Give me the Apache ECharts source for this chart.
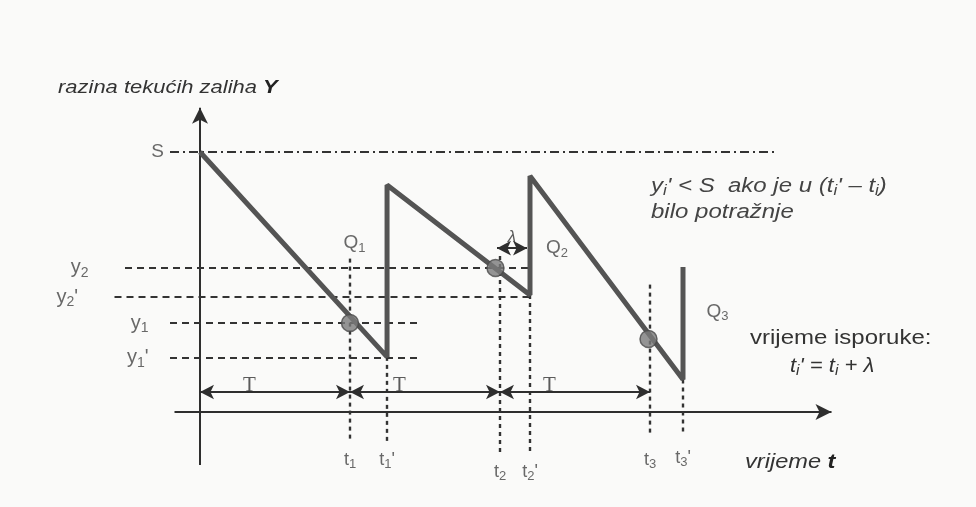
<!DOCTYPE html>
<html>
<head>
<meta charset="utf-8">
<script src="https://cdn.jsdelivr.net/npm/echarts@6/dist/echarts.min.js"></script>
<style>
html, body { margin: 0; padding: 0; background: #fafaf9; }
#chart { width: 976px; height: 507px; }
</style>
</head>
<body>
<div id="chart"></div>
<script>
// time in units of T, stock level with S = 10
const tickNames = ["t1", "t1'", "t2", "t2'", "t3", "t3'"];
const tickTimes = [1, 1.247, 2, 2.2, 3, 3.22];
const tickTops = [5.9, 2.12, 6.0, 4.5, 4.9, 1.25];
const tickBottoms = [-1.15, -1.2, -1.65, -1.65, -0.8, -0.8];
const tickLabelLevels = [-1.2, -1.2, -1.65, -1.65, -1.2, -1.1];

const stockX = [0, 1.247, 1.247, 2.2, 2.2, 3.22, 3.22];
const stockY = [10, 2.12, 8.73, 4.5, 9.08, 1.25, 5.58];

const orderX = [1, 1.97, 2.99];
const orderY = [3.42, 5.54, 2.81];

const levelNames = ["y2", "y2'", "y1", "y1'"];
const levelValues = [5.54, 4.42, 3.42, 2.08];
const levelStarts = [-0.5, -0.57, -0.2, -0.2];
const levelEnds = [2.2, 2.2, 1.45, 1.45];

const sLevel = 10;
const sRange = [-0.2, 3.85];

const periodStarts = [0, 1, 2];
const periodEnds = [1, 2, 3];
const periodLevel = 0.77;

const lambdaRange = [1.98, 2.18];
const lambdaLevel = 6.3;

const qNames = ["Q1", "Q2", "Q3"];
const qX = [1.03, 2.38, 3.45];
const qY = [6.5, 6.3, 3.85];

const xAxisRange = [-0.17, 4.21];
const yAxisRange = [-2.04, 11.7];

const ink = '#2e2e2e';
const sans = 'Liberation Sans';
const chart = echarts.init(document.getElementById('chart'));

function seg(a, b) { return [{ coord: a }, { coord: b }]; }

// "t1'" -> rich text with subscript digit
function subRich(name) {
  const m = name.match(/^(\D+)(\d)(.*)$/);
  let s = '{m|' + m[1] + '}{s|' + m[2] + '}';
  if (m[3]) s += '{m|' + m[3] + '}';
  return s;
}
function subStyles(size, color, italic) {
  const st = italic ? 'italic' : 'normal';
  return {
    m: { fontFamily: sans, fontStyle: st, fontSize: size, lineHeight: size + 4, color: color, fill: color },
    s: { fontFamily: sans, fontStyle: st, fontSize: Math.round(size * 0.7), lineHeight: Math.round(size * 0.7), verticalAlign: 'bottom', color: color, fill: color },
    b: { fontFamily: sans, fontStyle: 'italic', fontWeight: 'bold', fontSize: size, lineHeight: size + 4, color: '#222', fill: '#222' }
  };
}
function note(x, y, text, size, scaleX, color) {
  return {
    type: 'text', x: x, y: y, scaleX: scaleX,
    style: { text: text, rich: subStyles(size, color, true), verticalAlign: 'middle' }
  };
}

const option = {
  animation: false,
  backgroundColor: '#fafaf9',
  grid: { left: 50, right: 26, top: 74, bottom: 17 },
  xAxis: { type: 'value', min: -1, max: 5, show: false },
  yAxis: { type: 'value', min: -3, max: 13, show: false },
  graphic: [
    note(58, 88, '{m|razina tekućih zaliha }{b|Y}', 18, 1.22, '#333'),
    note(651, 186, "{m|y}{s|i}{m|' < S  ako je u (t}{s|i}{m|' – t}{s|i}{m|)}", 20, 1.2, '#444'),
    note(651, 212, '{m|bilo potražnje}', 20, 1.2, '#444'),
    {
      type: 'text', x: 750, y: 338, scaleX: 1.2,
      style: { text: 'vrijeme isporuke:', fontFamily: sans, fontSize: 20, fill: '#333', verticalAlign: 'middle' }
    },
    note(790, 366, "{m|t}{s|i}{m|' = t}{s|i}{m| + λ}", 20, 1.1, '#333'),
    note(745, 462, '{m|vrijeme }{b|t}', 20, 1.18, '#333')
  ],
  series: [
    {
      // axes with arrows
      type: 'line', data: [], silent: true,
      markLine: {
        silent: true, symbol: ['none', 'arrow'], symbolSize: [12, 16],
        label: { show: false },
        lineStyle: { type: 'solid', width: 2, color: ink },
        data: [
          seg([xAxisRange[0], 0], [xAxisRange[1], 0]),
          seg([0, yAxisRange[0]], [0, yAxisRange[1]])
        ]
      }
    },
    {
      // S level, dash-dot
      type: 'line', data: [], silent: true,
      markLine: {
        silent: true, symbol: ['none', 'none'],
        label: { show: false },
        lineStyle: { type: [9, 4, 2, 4], width: 1.8, color: '#333' },
        data: [seg([sRange[0], sLevel], [sRange[1], sLevel])]
      }
    },
    {
      // y levels, dashed
      type: 'line', data: [], silent: true,
      markLine: {
        silent: true, symbol: ['none', 'none'],
        label: { show: false },
        lineStyle: { type: [7, 5], width: 2.2, color: '#333' },
        data: levelValues.map((v, i) => seg([levelStarts[i], v], [levelEnds[i], v]))
      }
    },
    {
      // vertical dotted time lines
      type: 'line', data: [], silent: true,
      markLine: {
        silent: true, symbol: ['none', 'none'],
        label: { show: false },
        lineStyle: { type: [4, 4], width: 2.4, color: '#333' },
        data: tickTimes.map((t, i) => seg([t, tickTops[i]], [t, tickBottoms[i]]))
      }
    },
    {
      // T period arrows and lambda arrow
      type: 'line', data: [], silent: true,
      markLine: {
        silent: true, symbol: ['arrow', 'arrow'], symbolSize: [11, 14],
        label: { show: false },
        lineStyle: { type: 'solid', width: 2, color: ink },
        data: periodStarts.map((s, i) => seg([s, periodLevel], [periodEnds[i], periodLevel]))
          .concat([seg([lambdaRange[0], lambdaLevel], [lambdaRange[1], lambdaLevel])])
      }
    },
    {
      // stock level sawtooth
      type: 'line', z: 5, silent: true, showSymbol: false,
      lineStyle: { width: 5, color: '#545454' },
      data: stockX.map((x, i) => [x, stockY[i]])
    },
    {
      // order points
      type: 'scatter', z: 6, silent: true, symbolSize: 17,
      itemStyle: { color: '#7b7b7b', borderColor: '#4a4a4a', borderWidth: 1.5 },
      data: orderX.map((x, i) => [x, orderY[i]])
    },
    {
      // time tick labels
      type: 'scatter', silent: true, symbolSize: 0,
      label: { show: true, position: 'bottom', distance: 6, formatter: p => subRich(p.name), rich: subStyles(18, '#444', false) },
      data: tickNames.map((n, i) => ({ name: n, value: [tickTimes[i], tickLabelLevels[i]] }))
    },
    {
      // level labels
      type: 'scatter', silent: true, symbolSize: 0,
      label: { show: true, position: 'left', distance: 14, formatter: p => subRich(p.name), rich: subStyles(20, '#444', false) },
      data: levelNames.map((n, i) => ({ name: n, value: [levelStarts[i] - (i < 2 ? 0.15 : 0.05), levelValues[i]] }))
    },
    {
      // S label
      type: 'scatter', silent: true, symbolSize: 0,
      label: { show: true, position: 'left', distance: 6, formatter: p => p.name, fontFamily: sans, fontSize: 19, color: '#444' },
      data: [{ name: 'S', value: [sRange[0], sLevel] }]
    },
    {
      // Q labels
      type: 'scatter', silent: true, symbolSize: 0,
      label: { show: true, position: 'inside', formatter: p => subRich(p.name), rich: subStyles(19, '#444', false) },
      data: qNames.map((n, i) => ({ name: n, value: [qX[i], qY[i]] }))
    },
    {
      // T and lambda labels
      type: 'scatter', silent: true, symbolSize: 0,
      label: { show: true, position: 'top', distance: 0, formatter: p => p.name, fontFamily: 'Liberation Serif', fontSize: 21, color: '#333' },
      data: periodStarts.map((s, i) => ({ name: 'T', value: [(s + periodEnds[i]) / 2 - 0.17, periodLevel - 0.15] }))
        .concat([{ name: 'λ', value: [(lambdaRange[0] + lambdaRange[1]) / 2, lambdaLevel + 0.1], label: { fontFamily: sans, fontStyle: 'italic', fontSize: 17 } }])
    }
  ]
};

chart.setOption(option);
</script>
</body>
</html>
